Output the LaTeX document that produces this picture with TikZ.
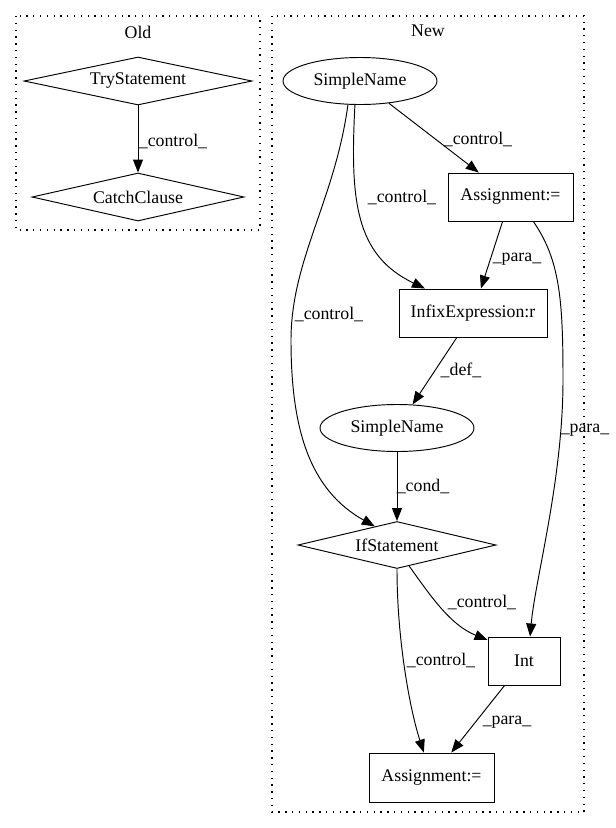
\documentclass[tikz,border=0pt]{standalone}
\usepackage{fontspec}
\setmainfont{Liberation Serif}
\usetikzlibrary{shapes.geometric,arrows.meta,calc}

\begin{document}
\begin{tikzpicture}[x=1pt,y=-1pt,line width=0.95pt,
    every node/.style={font=\fontsize{17.8}{20}\selectfont,inner sep=1pt},
    diam/.style={draw,diamond,aspect=4,minimum height=48pt},
    ell/.style={draw,ellipse,minimum width=154pt,minimum height=47pt},
    box/.style={draw,rectangle,minimum height=48pt},
    lbl/.style={text height=12pt,text depth=4pt},
    cluster/.style={line width=1.2pt,dash pattern=on 1.3pt off 5.5pt},
    flow/.style={-{Triangle[length=13pt,width=10pt]}}]
    % Fix the page to the reference size
    \useasboundingbox (0,0) rectangle (616,828);

    % Clusters
    \draw[cluster] (16,16) rectangle (260,230);
    \draw[cluster] (272,16) rectangle (584,812);
    \node (oldtitle) at (138,32) {Old};
    \node (newtitle) at (428,31) {New};

    % Old graph
    \node[diam,minimum width=228pt] (trystmt) at (138,81) {TryStatement};
    \node[diam,minimum width=212pt] (catchcl) at (138,197) {CatchClause};

    % New graph
    \node[ell] (sname) at (360,81) {SimpleName};
    \node[box,minimum width=125pt] (assignA) at (510.5,197) {Assignment:=};
    \node[box,minimum width=148pt] (infix) at (473,313) {InfixExpression:r};
    \node[ell] (snameB) at (397,428) {SimpleName};
    \node[diam,minimum width=198pt,minimum height=47pt] (ifstmt) at (397,545) {IfStatement};
    \node[box,minimum width=72pt] (intlit) at (524,661) {Int};
    \node[box,minimum width=125pt,minimum height=49pt] (assignB) at (431.5,777.5) {Assignment:=};

    % Edges
    \draw[flow] (trystmt) -- (catchcl);
    \draw[flow] (sname) -- (assignA);
    \draw[flow] (sname.-102) .. controls (350,200) and (355,255) .. (infix.153);
    \draw[flow] (sname.-117) .. controls (335,200) and (291,260) .. (291,340)
        .. controls (291,430) and (310,490) .. (ifstmt.140);
    \draw[flow] (assignA) -- (infix);
    \draw[flow] (assignA.-47) .. controls (560,260) and (563,300) .. (563,380)
        .. controls (563,480) and (535,580) .. (intlit.76);
    \draw[flow] (infix) -- (snameB);
    \draw[flow] (snameB) -- (ifstmt);
    \draw[flow] (ifstmt.-60) .. controls (430,595) and (450,625) .. (intlit.150);
    \draw[flow] (ifstmt.south) .. controls (397,640) and (410,710) .. (assignB.107);
    \draw[flow] (intlit) -- (assignB);

    % Edge labels
    \node[lbl] (lctrlA) at (173,142) {\_control\_};
    \node[lbl] (lctrlB) at (478,140) {\_control\_};
    \node[lbl] (lctrlC) at (402,198) {\_control\_};
    \node[lbl] (lctrlD) at (329,315) {\_control\_};
    \node[lbl] (lparaA) at (517,257) {\_para\_};
    \node[lbl] (lparaB) at (585,428) {\_para\_};
    \node[lbl] (ldef) at (461,371) {\_def\_};
    \node[lbl] (lcond) at (423,487) {\_cond\_};
    \node[lbl] (lctrlE) at (482,603) {\_control\_};
    \node[lbl] (lctrlF) at (441,661) {\_control\_};
    \node[lbl] (lparaC) at (507,720) {\_para\_};

\end{tikzpicture}
\end{document}
